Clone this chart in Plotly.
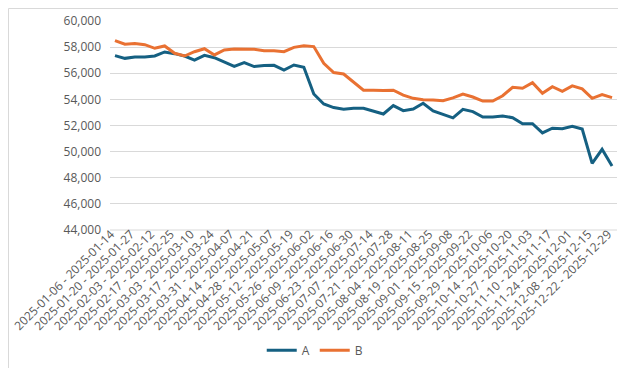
import plotly.graph_objects as go

tick_labels = [
    "2025-01-06 - 2025-01-14", "2025-01-20 - 2025-01-27", "2025-02-03 - 2025-02-12",
    "2025-02-17 - 2025-02-25", "2025-03-03 - 2025-03-10", "2025-03-17 - 2025-03-24",
    "2025-03-31 - 2025-04-07", "2025-04-14 - 2025-04-21", "2025-04-28 - 2025-05-07",
    "2025-05-12 - 2025-05-19", "2025-05-26 - 2025-06-02", "2025-06-09 - 2025-06-16",
    "2025-06-23 - 2025-06-30", "2025-07-07 - 2025-07-14", "2025-07-21 - 2025-07-28",
    "2025-08-04 - 2025-08-11", "2025-08-19 - 2025-08-25", "2025-09-01 - 2025-09-08",
    "2025-09-15 - 2025-09-22", "2025-09-29 - 2025-10-06", "2025-10-14 - 2025-10-20",
    "2025-10-27 - 2025-11-03", "2025-11-10 - 2025-11-17", "2025-11-24 - 2025-12-01",
    "2025-12-08 - 2025-12-15", "2025-12-22 - 2025-12-29",
]

series_a = [
    57350, 57140, 57240, 57240, 57320, 57630, 57500, 57320, 57010, 57370,
    57190, 56890, 56530, 56810, 56510, 56590, 56610, 56240, 56630, 56460,
    54410, 53650, 53370, 53240, 53320, 53320, 53110, 52880, 53520, 53140,
    53260, 53700, 53110, 52860, 52580, 53240, 53060, 52650, 52650, 52730,
    52600, 52140, 52140, 51430, 51790, 51760, 51940, 51730, 49100, 50180,
    48900,
]

series_b = [
    58500, 58220, 58270, 58190, 57910, 58090, 57530, 57320, 57650, 57880,
    57400, 57780, 57860, 57860, 57830, 57730, 57730, 57650, 57980, 58100,
    58040, 56760, 56050, 55940, 55310, 54700, 54700, 54670, 54700, 54330,
    54080, 53980, 53950, 53890, 54110, 54410, 54180, 53870, 53870, 54280,
    54920, 54850, 55280, 54460, 54970, 54620, 55030, 54800, 54080, 54360,
    54130,
]

x_idx = list(range(len(series_a)))
tick_vals = x_idx[::2]

W, H = 626, 368
ML, MR, MT, MB = 102, 17, 13, 146
pw, ph = W - ML - MR, H - MT - MB

fig = go.Figure()
fig.add_trace(go.Scatter(x=x_idx, y=series_a, mode="lines", name="A",
                         line=dict(color="#156082", width=3)))
fig.add_trace(go.Scatter(x=x_idx, y=series_b, mode="lines", name="B",
                         line=dict(color="#E97132", width=3)))

font_family = "Open Sans"
fig.update_layout(
    width=W, height=H,
    margin=dict(l=ML, r=MR, t=MT, b=MB, autoexpand=False),
    paper_bgcolor="white", plot_bgcolor="white",
    font=dict(family=font_family, size=12, color="#595959"),
    showlegend=True,
    legend=dict(orientation="h", xref="container", x=0.49, xanchor="center",
                yref="container", y=0.07, yanchor="middle",
                font=dict(size=12, color="#595959"), itemwidth=30,
                bgcolor="rgba(0,0,0,0)"),
    xaxis=dict(range=[-0.5, len(series_a) - 0.5], tickmode="array",
               tickvals=tick_vals, ticktext=tick_labels, tickangle=-45,
               showgrid=False, zeroline=False, showline=False, ticks="",
               tickfont=dict(size=12, color="#595959"), ticklabelstandoff=-6,
               ticklabelshift=-4),
    yaxis=dict(range=[44000, 60000], dtick=2000, tickformat=",",
               showgrid=True, gridcolor="#D9D9D9", gridwidth=1,
               zeroline=False, showline=False, ticks="",
               tickfont=dict(size=12, color="#595959"), ticklabelstandoff=8),
    shapes=[
        dict(type="rect", xref="paper", yref="paper",
             x0=-(ML - 0.5) / pw, x1=1 + (MR - 0.5) / pw,
             y0=-(MB - 0.5) / ph, y1=1 + (MT - 0.5) / ph,
             line=dict(color="#D9D9D9", width=1), layer="below"),
        dict(type="line", xref="paper", yref="paper", x0=0, x1=1, y0=0, y1=0,
             line=dict(color="#D9D9D9", width=1), layer="below"),
    ],
)

fig.write_html("out.html")
